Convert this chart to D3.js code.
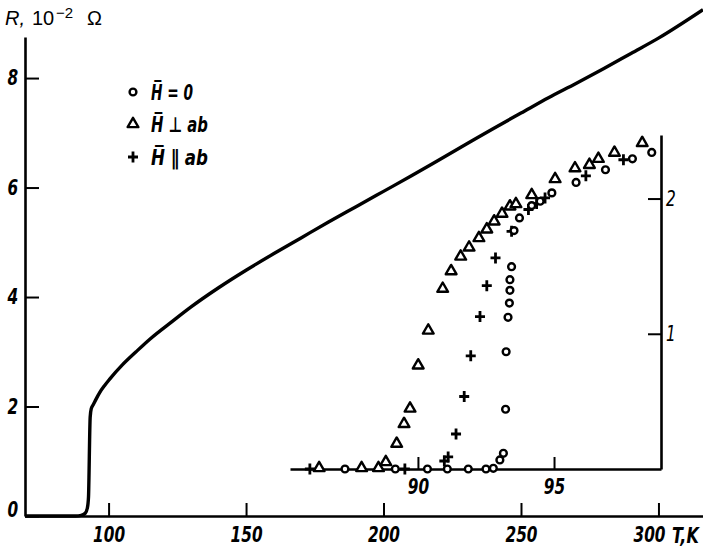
<!DOCTYPE html>
<html>
<head>
<meta charset="utf-8">
<script src="https://cdn.jsdelivr.net/npm/d3@7"></script>
<style>
  body { margin: 0; background: #fff; }
  svg { display: block; }
  .lbl { font-family: 'DejaVu Sans', sans-serif; font-style: italic; font-weight: bold; font-size: 21px; fill: #000; }
</style>
</head>
<body>
<div id="chart"></div>
<script>
// main curve, R (10^-2 Ohm) against T (K)
var mainT = [69.6, 88, 90, 91.5, 92.3, 92.7, 92.9, 93.1, 93.3, 93.7, 94.5, 95.5, 96.7, 98.5, 100.4, 105, 110, 115, 123.3, 130, 140, 150, 160, 170, 180, 190, 200, 210, 220, 230, 240, 250, 260, 270, 280, 290, 300, 316.2];
var mainR = [0, 0, 0.01, 0.05, 0.15, 0.35, 0.8, 1.4, 1.8, 1.96, 2.04, 2.14, 2.25, 2.38, 2.5, 2.76, 3.0, 3.23, 3.56, 3.82, 4.17, 4.49, 4.79, 5.08, 5.37, 5.65, 5.93, 6.21, 6.5, 6.79, 7.08, 7.36, 7.64, 7.9, 8.17, 8.45, 8.73, 9.25];

// inset: H = 0 (circles)
var zeroT = [87.32, 89.17, 90.35, 91.08, 91.85, 92.50, 92.77, 93.01, 93.14, 93.22, 93.24, 93.31, 93.36, 93.38, 93.38, 93.44, 93.53, 93.73, 94.18, 94.49, 94.92, 95.81, 96.89, 97.88, 98.59];
var zeroR = [0, 0, 0, 0, 0, 0, 0.005, 0.067, 0.116, 0.442, 0.867, 1.122, 1.227, 1.321, 1.40, 1.496, 1.763, 1.857, 1.948, 1.98, 2.042, 2.119, 2.213, 2.294, 2.341];

// inset: H perpendicular to ab (triangles)
var perpT = [86.37, 87.93, 88.55, 88.82, 89.22, 89.49, 89.71, 90.01, 90.38, 90.91, 91.22, 91.57, 91.88, 92.24, 92.53, 92.80, 93.09, 93.38, 93.60, 94.18, 95.04, 95.77, 96.30, 96.63, 97.22, 98.24];
var perpR = [0, 0, 0, 0.044, 0.18, 0.326, 0.44, 0.759, 1.017, 1.326, 1.456, 1.564, 1.631, 1.701, 1.765, 1.824, 1.881, 1.935, 1.952, 2.019, 2.137, 2.217, 2.242, 2.287, 2.332, 2.404];

// inset: H parallel to ab (crosses)
var parT = [86.03, 89.52, 90.97, 91.11, 91.40, 91.70, 91.94, 92.28, 92.53, 92.85, 93.44, 94.06, 94.36, 94.67, 96.17, 97.55];
var parR = [0, 0, 0.059, 0.089, 0.259, 0.536, 0.837, 1.127, 1.356, 1.561, 1.758, 1.919, 1.963, 2.005, 2.168, 2.287];

var mainXTicks = [100, 150, 200, 250, 300];
var mainYTicks = [0, 2, 4, 6, 8];
var insetXTicks = [90, 95];
var insetYTicks = [1, 2];
var legendNames = ["H\u0305 = 0", "H\u0305 \u22A5 ab", "H\u0305 \u2225 ab"];
var legendWidths = [42, 57, 57];

var W = 703, H = 549;
var svg = d3.select("#chart").append("svg").attr("width", W).attr("height", H);

var x = d3.scaleLinear().domain([69.6, 316.2]).range([25, 703]);
var y = d3.scaleLinear().domain([0, 8.75]).range([516, 37]);
var xi = d3.scaleLinear().domain([85.3, 98.93]).range([290, 661]);
var yi = d3.scaleLinear().domain([0, 2.47]).range([469, 135]);

// squeeze the bold italic digits sideways so they look condensed like the original
var SQ = 0.73;
function narrow(sel) {
    sel.attr("transform", "scale(" + SQ + ",1)");
}

function styleAxis(g, w) {
    g.select(".domain").attr("stroke", "#000").attr("stroke-width", w);
    g.selectAll(".tick line").attr("stroke", "#000").attr("stroke-width", 2);
    g.selectAll(".tick text").attr("class", "lbl").attr("fill", "#000");
    narrow(g.selectAll(".tick text"));
}

// main axes
var gx = svg.append("g").attr("transform", "translate(0,516)")
    .call(d3.axisBottom(x).tickValues(mainXTicks).tickSizeInner(-13).tickSizeOuter(0).tickPadding(11));
styleAxis(gx, 2.6);
gx.selectAll(".tick text").filter(function(d) { return d == 300; }).attr("x", -13);
var gy = svg.append("g").attr("transform", "translate(25,0)")
    .call(d3.axisLeft(y).tickValues(mainYTicks).tickSizeInner(-14).tickSizeOuter(0).tickPadding(9.5));
styleAxis(gy, 2.6);
gy.selectAll(".tick text").filter(function(d) { return d == 0; }).attr("y", -6);

var unit = svg.append("g").attr("transform", "translate(672,543)")
    .append("text").attr("class", "lbl").text("T,K");
unit.attr("transform", "scale(0.76,1)");

var ttl = svg.append("text").attr("y", 25)
    .style("font-family", "'Liberation Sans', Arial, sans-serif").style("font-size", "20px");
ttl.append("tspan").attr("x", 5).style("font-style", "italic").text("R,");
ttl.append("tspan").attr("x", 32).text("10");
ttl.append("tspan").attr("x", 56).attr("dy", -7).style("font-size", "15px").text("\u22122");
ttl.append("tspan").attr("x", 87).attr("dy", 7).text("\u03A9");

// main curve
var line = d3.line().x(function(d, i) { return x(mainT[i]); }).y(function(d) { return y(d); })
    .curve(d3.curveMonotoneX);
svg.append("path").attr("d", line(mainR)).attr("fill", "none").attr("stroke", "#000")
    .attr("stroke-width", 3.4).attr("stroke-linejoin", "round");

// inset axes
var gxi = svg.append("g").attr("transform", "translate(0,469)")
    .call(d3.axisBottom(xi).tickValues(insetXTicks).tickSizeInner(-12).tickSizeOuter(0).tickPadding(10));
styleAxis(gxi, 2.4);
var gyi = svg.append("g").attr("transform", "translate(661,0)")
    .call(d3.axisRight(yi).tickValues(insetYTicks).tickFormat(d3.format("d")).tickSizeInner(-13).tickSizeOuter(0).tickPadding(7));
styleAxis(gyi, 2.6);
gyi.selectAll(".tick text").style("font-weight", "normal");

// markers
var triPath = d3.symbol().type(d3.symbolTriangle).size(50)();
function drawCircle(g, px, py) {
    g.append("circle").attr("cx", px).attr("cy", py).attr("r", 3.4)
        .attr("fill", "#fff").attr("stroke", "#000").attr("stroke-width", 2.4);
}
function drawTri(g, px, py) {
    g.append("path").attr("d", triPath).attr("transform", "translate(" + px + "," + py + ")")
        .attr("fill", "#fff").attr("stroke", "#000").attr("stroke-width", 2.4).attr("stroke-linejoin", "round");
}
function drawPlus(g, px, py) {
    g.append("path").attr("d", "M" + (px - 5) + "," + py + "H" + (px + 5) + "M" + px + "," + (py - 5.5) + "V" + (py + 5.5))
        .attr("stroke", "#000").attr("stroke-width", 2.8);
}

var pts = svg.append("g");
perpT.forEach(function(t, i) { drawTri(pts, xi(t), yi(perpR[i]) - 1); });
parT.forEach(function(t, i) { drawPlus(pts, xi(t), yi(parR[i])); });
zeroT.forEach(function(t, i) { drawCircle(pts, xi(t), yi(zeroR[i])); });

// legend
var leg = svg.append("g");
var legY = [92, 124, 157];
var legMark = [drawCircle, drawTri, drawPlus];
legendNames.forEach(function(name, i) {
    legMark[i](leg, 133, legY[i]);
    leg.append("text").attr("class", "lbl").attr("x", 151).attr("y", legY[i] + 8)
        .attr("textLength", legendWidths[i]).attr("lengthAdjust", "spacingAndGlyphs").text(name);
});
</script>
</body>
</html>
